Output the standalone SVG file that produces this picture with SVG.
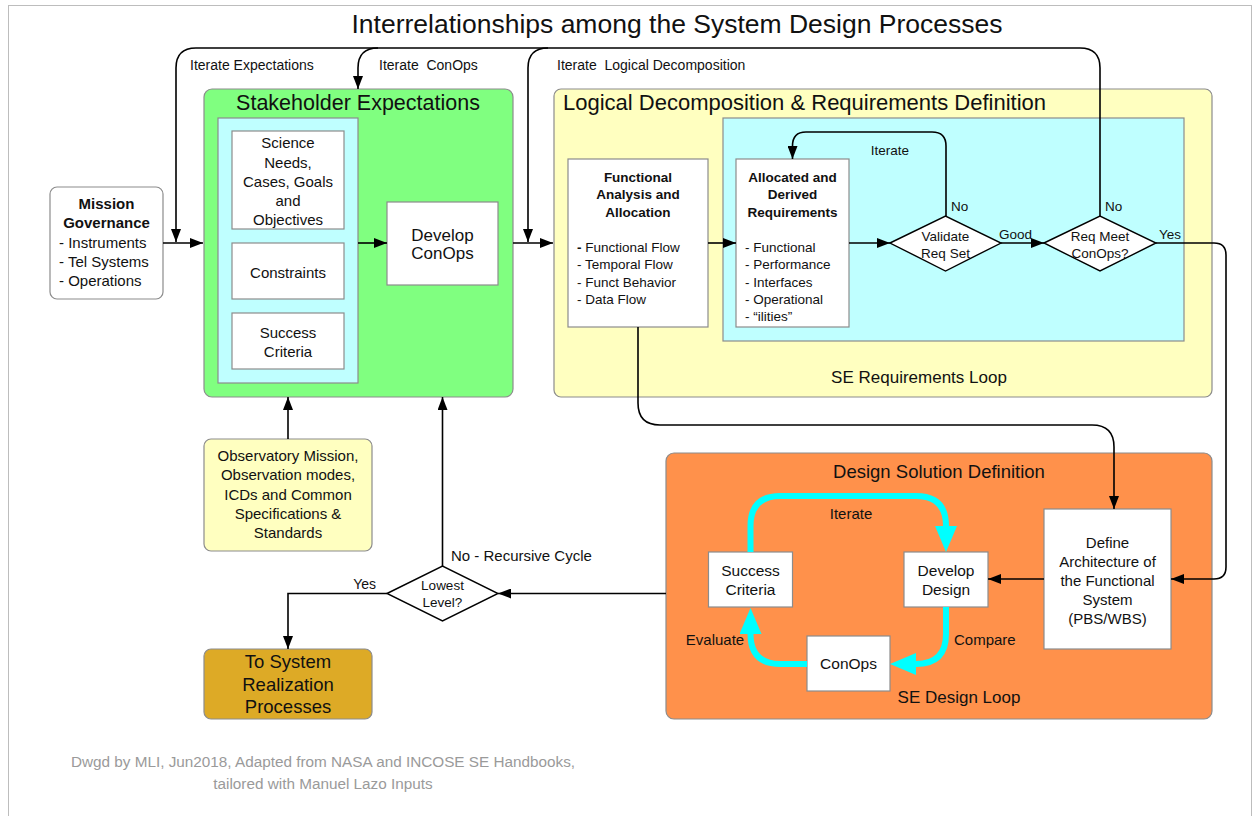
<svg xmlns="http://www.w3.org/2000/svg" width="1254" height="816" viewBox="0 0 1254 816">
  <style>
    text { font-family: "Liberation Sans", Arial, sans-serif; fill: #111; }
    .c { text-anchor: middle; }
    .b { font-weight: bold; }
    .pre { white-space: pre; }
    .box { fill: #fff; stroke: #8c8c8c; stroke-width: 1.2; }
    .panel { stroke: #8c8c8c; stroke-width: 1.2; }
    .wire { fill: none; stroke: #000; stroke-width: 1.6; }
    .loop { fill: none; stroke: #00ffff; stroke-width: 6; }
    .dia { fill: #fff; stroke: #000; stroke-width: 1.4; }
    .t15 { font-size: 15px; }
    .t14 { font-size: 14px; }
    .t13 { font-size: 13.5px; }
  </style>
  <defs>
    <marker id="ah" viewBox="0 0 13 10" refX="13" refY="5" markerWidth="13" markerHeight="10" markerUnits="userSpaceOnUse" orient="auto">
      <path d="M0,0 L13,5 L0,10 z" fill="#000"/>
    </marker>
    <marker id="cy" viewBox="0 0 26 22" refX="0" refY="11" markerWidth="26" markerHeight="22" markerUnits="userSpaceOnUse" orient="auto">
      <path d="M0,0 L26,11 L0,22 z" fill="#00ffff"/>
    </marker>
  </defs>

  <!-- page frame -->
  <rect x="8.5" y="5.5" width="1243" height="830" fill="#fff" stroke="#bdbdbd" stroke-width="1"/>

  <text class="c" x="677" y="33" style="font-size:26.5px">Interrelationships among the System Design Processes</text>

  <!-- Stakeholder Expectations -->
  <g id="stakeholder">
    <rect class="panel" x="204" y="89" width="309" height="308" rx="8" fill="#80ff80"/>
    <text class="c" x="358" y="110" style="font-size:21.5px">Stakeholder Expectations</text>
    <rect class="panel" x="218" y="118" width="140" height="265" fill="#bfffff"/>
  </g>
  <g id="science-needs">
    <rect class="box" x="232" y="131" width="112" height="98"/>
    <text class="c t15" x="288" y="148">Science</text>
    <text class="c t15" x="288" y="168">Needs,</text>
    <text class="c t15" x="288" y="187">Cases, Goals</text>
    <text class="c t15" x="288" y="206">and</text>
    <text class="c t15" x="288" y="225">Objectives</text>
  </g>
  <g id="constraints">
    <rect class="box" x="232" y="243" width="112" height="56"/>
    <text class="c t15" x="288" y="278">Constraints</text>
  </g>
  <g id="success-criteria-se">
    <rect class="box" x="232" y="313" width="112" height="56"/>
    <text class="c t15" x="288" y="338">Success</text>
    <text class="c t15" x="288" y="357">Criteria</text>
  </g>
  <g id="develop-conops">
    <rect class="box" x="387" y="202" width="111" height="83"/>
    <text class="c" x="442.5" y="241" style="font-size:17px">Develop</text>
    <text class="c" x="442.5" y="259" style="font-size:17px">ConOps</text>
  </g>

  <!-- Mission Governance -->
  <g id="mission-governance">
    <rect class="box" x="50" y="187" width="113" height="112" rx="7"/>
    <text class="c b t15" x="106.5" y="209">Mission</text>
    <text class="c b t15" x="106.5" y="228">Governance</text>
    <text class="t15" x="59" y="248">- Instruments</text>
    <text class="t15" x="59" y="267">- Tel Systems</text>
    <text class="t15" x="59" y="286">- Operations</text>
  </g>

  <!-- Logical Decomposition & Requirements Definition -->
  <g id="logical-decomposition">
    <rect class="panel" x="554" y="89" width="658" height="308" rx="7" fill="#ffffc0"/>
    <text x="563" y="110" style="font-size:22px">Logical Decomposition &amp; Requirements Definition</text>
    <rect class="panel" x="723" y="118" width="461" height="223" fill="#bfffff"/>
    <text class="c" x="919" y="383" style="font-size:17px">SE Requirements Loop</text>
  </g>
  <g id="functional-analysis">
    <rect class="box" x="568" y="159" width="140" height="168"/>
    <text class="c b t13" x="638" y="182">Functional</text>
    <text class="c b t13" x="638" y="199">Analysis and</text>
    <text class="c b t13" x="638" y="217">Allocation</text>
    <text class="t13" x="577" y="252"><tspan font-weight="bold">-</tspan> Functional Flow</text>
    <text class="t13" x="577" y="269">- Temporal Flow</text>
    <text class="t13" x="577" y="287">- Funct Behavior</text>
    <text class="t13" x="577" y="304">- Data Flow</text>
  </g>
  <g id="allocated-requirements">
    <rect class="box" x="736" y="159" width="113" height="168"/>
    <text class="c b t13" x="792.5" y="182">Allocated and</text>
    <text class="c b t13" x="792.5" y="199">Derived</text>
    <text class="c b t13" x="792.5" y="217">Requirements</text>
    <text class="t13" x="745" y="252">- Functional</text>
    <text class="t13" x="745" y="269">- Performance</text>
    <text class="t13" x="745" y="287">- Interfaces</text>
    <text class="t13" x="745" y="304">- Operational</text>
    <text class="t13" x="745" y="321">- “ilities”</text>
  </g>
  <g id="validate-req-set">
    <polygon class="dia" points="890,243 945.5,216 1001,243 945.5,271"/>
    <text class="c t13" x="945.5" y="241">Validate</text>
    <text class="c t13" x="945.5" y="258">Req Set</text>
  </g>
  <g id="req-meet-conops">
    <polygon class="dia" points="1044,243 1100,216 1156,243 1100,271"/>
    <text class="c t13" x="1100" y="241">Req Meet</text>
    <text class="c t13" x="1100" y="258">ConOps?</text>
  </g>

  <!-- Observatory inputs -->
  <g id="observatory-inputs">
    <rect class="panel" x="204" y="439" width="168" height="112" rx="7" fill="#ffffc0"/>
    <text class="c t15" x="288" y="461">Observatory Mission,</text>
    <text class="c t15" x="288" y="480">Observation modes,</text>
    <text class="c t15" x="288" y="500">ICDs and Common</text>
    <text class="c t15" x="288" y="519">Specifications &amp;</text>
    <text class="c t15" x="288" y="538">Standards</text>
  </g>

  <!-- Lowest Level decision -->
  <g id="lowest-level">
    <polygon class="dia" points="387,593.5 442.5,566 498,593.5 442.5,621"/>
    <text class="c t13" x="442.5" y="590">Lowest</text>
    <text class="c t13" x="442.5" y="607">Level?</text>
  </g>

  <!-- To System Realization -->
  <g id="system-realization">
    <rect class="panel" x="204" y="649" width="168" height="70" rx="7" fill="#ddaa26"/>
    <text class="c" x="288" y="668" style="font-size:18.5px">To System</text>
    <text class="c" x="288" y="691" style="font-size:18.5px">Realization</text>
    <text class="c" x="288" y="713" style="font-size:18.5px">Processes</text>
  </g>

  <!-- Design Solution Definition -->
  <g id="design-solution">
    <rect class="panel" x="666" y="453" width="546" height="266" rx="8" fill="#ff914b"/>
    <text class="c" x="939" y="478" style="font-size:18.5px">Design Solution Definition</text>
    <text class="c" x="959" y="703" style="font-size:17px">SE Design Loop</text>
  </g>
  <g id="define-architecture">
    <rect class="box" x="1044" y="509" width="127" height="140"/>
    <text class="c t15" x="1107.5" y="548">Define</text>
    <text class="c t15" x="1107.5" y="567">Architecture of</text>
    <text class="c t15" x="1107.5" y="586">the Functional</text>
    <text class="c t15" x="1107.5" y="605">System</text>
    <text class="c t15" x="1107.5" y="624">(PBS/WBS)</text>
  </g>
  <g id="develop-design">
    <rect class="box" x="904" y="552" width="84" height="55"/>
    <text class="c" x="946" y="576" style="font-size:15.5px">Develop</text>
    <text class="c" x="946" y="595" style="font-size:15.5px">Design</text>
  </g>
  <g id="success-criteria-dl">
    <rect class="box" x="708.5" y="552" width="84" height="55"/>
    <text class="c" x="750.5" y="576" style="font-size:15.5px">Success</text>
    <text class="c" x="750.5" y="595" style="font-size:15.5px">Criteria</text>
  </g>
  <g id="conops-dl">
    <rect class="box" x="807" y="636" width="83" height="55"/>
    <text class="c" x="848.5" y="669" style="font-size:15.5px">ConOps</text>
  </g>

  <!-- connectors -->
  <g id="connectors">
    <!-- main flow -->
    <path class="wire" d="M163,243 H203" marker-end="url(#ah)"/>
    <path class="wire" d="M358,243 H387" marker-end="url(#ah)"/>
    <path class="wire" d="M513,243 H553" marker-end="url(#ah)"/>
    <path class="wire" d="M708,243 H736" marker-end="url(#ah)"/>
    <path class="wire" d="M849,243 H890" marker-end="url(#ah)"/>
    <path class="wire" d="M1001,243 H1044" marker-end="url(#ah)"/>

    <!-- requirement iteration -->
    <path class="wire" d="M946,216 V146 Q946,132 932,132 H806 Q792.5,132 792.5,146 V159" marker-end="url(#ah)"/>

    <!-- outer iteration paths from Req Meet ConOps -->
    <path class="wire" d="M1100,216 V68 Q1100,48 1080,48 H196 Q176,48 176,68 V242" marker-end="url(#ah)"/>
    <path class="wire" d="M378,48 Q358,48 358,68 V89" marker-end="url(#ah)"/>
    <path class="wire" d="M548,48 Q528,48 528,68 V242" marker-end="url(#ah)"/>

    <!-- to design solution -->
    <path class="wire" d="M1156,243 H1214 Q1226,243 1226,255 V567 Q1226,579 1214,579 H1171" marker-end="url(#ah)"/>
    <path class="wire" d="M638,327 V403 Q638,425 660,425 H1092 Q1114,425 1114,447 V509" marker-end="url(#ah)"/>
    <path class="wire" d="M1044,579 H988" marker-end="url(#ah)"/>

    <!-- recursion -->
    <path class="wire" d="M666,593.5 H498" marker-end="url(#ah)"/>
    <path class="wire" d="M442.5,566 V397" marker-end="url(#ah)"/>
    <path class="wire" d="M288,439 V397" marker-end="url(#ah)"/>
    <path class="wire" d="M387,593.5 H288 V649" marker-end="url(#ah)"/>

    <!-- design loop -->
    <path class="loop" d="M750.5,552 V526 Q750.5,496 780.5,496 H916 Q946,496 946,526" marker-end="url(#cy)"/>
    <path class="loop" d="M946,607 V634 Q946,664 916,664" marker-end="url(#cy)"/>
    <path class="loop" d="M807,664 H780.5 Q750.5,664 750.5,634" marker-end="url(#cy)"/>

    <!-- connector labels -->
    <text class="t14" x="190" y="70">Iterate Expectations</text>
    <text class="t14 pre" x="379" y="70">Iterate  ConOps</text>
    <text class="t14 pre" x="557" y="70">Iterate  Logical Decomposition</text>
    <text class="c t13" x="890" y="155">Iterate</text>
    <text class="t13" x="951" y="211">No</text>
    <text class="t13" x="1105" y="211">No</text>
    <text class="t13" x="999" y="239">Good</text>
    <text class="t13" x="1159" y="239">Yes</text>
    <text class="t15" x="451" y="561">No - Recursive Cycle</text>
    <text class="t14" x="376" y="589" text-anchor="end">Yes</text>
    <text class="c t15" x="851" y="519">Iterate</text>
    <text class="t15" x="954" y="645">Compare</text>
    <text class="c t15" x="715" y="645">Evaluate</text>
  </g>

  <!-- credits -->
  <text class="c" x="323" y="767" style="font-size:15.3px;fill:#9a9a9a">Dwgd by MLI, Jun2018, Adapted from NASA and INCOSE SE Handbooks,</text>
  <text class="c" x="323" y="789" style="font-size:15.3px;fill:#9a9a9a">tailored with Manuel Lazo Inputs</text>
</svg>
